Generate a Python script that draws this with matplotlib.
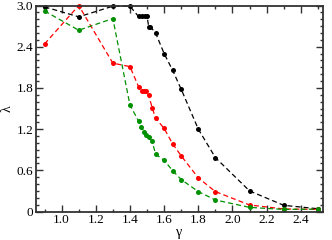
import matplotlib
matplotlib.use("Agg")
import matplotlib.pyplot as plt
from matplotlib.ticker import MultipleLocator, FixedFormatter, FixedLocator

black_x = [0.9, 1.1, 1.3, 1.4, 1.45, 1.47, 1.49, 1.50, 1.51, 1.52, 1.55, 1.6, 1.65, 1.7, 1.8, 1.9, 2.1, 2.3, 2.5]
black_y = [2.98, 2.835, 2.99, 2.99, 2.84, 2.84, 2.84, 2.84, 2.69, 2.69, 2.60, 2.30, 2.055, 1.78, 1.20, 0.785, 0.30, 0.09, 0.04]

red_x = [0.9, 1.1, 1.3, 1.4, 1.45, 1.47, 1.485, 1.495, 1.51, 1.53, 1.55, 1.6, 1.65, 1.7, 1.8, 1.9, 2.1, 2.3, 2.5]
red_y = [2.44, 3.0, 2.16, 2.11, 1.82, 1.75, 1.76, 1.75, 1.69, 1.51, 1.36, 1.21, 0.985, 0.81, 0.49, 0.29, 0.095, 0.037, 0.03]

green_x = [0.9, 1.1, 1.3, 1.4, 1.45, 1.465, 1.485, 1.495, 1.51, 1.53, 1.55, 1.6, 1.65, 1.7, 1.8, 1.9, 2.1, 2.3, 2.5]
green_y = [2.92, 2.64, 2.81, 1.55, 1.32, 1.23, 1.16, 1.12, 1.08, 1.02, 0.835, 0.745, 0.595, 0.465, 0.29, 0.168, 0.06, 0.03, 0.035]

xticks = [1.0, 1.2, 1.4, 1.6, 1.8, 2.0, 2.2, 2.4]
xticklabels = ["1.0", "1.2", "1.4", "1.6", "1.8", "2.0", "2.2", "2.4"]
yticks = [0, 0.6, 1.2, 1.8, 2.4, 3.0]
yticklabels = ["0", "0.6", "1.2", "1.8", "2.4", "3.0"]

plt.rcParams['font.family'] = ['Liberation Serif', 'DejaVu Serif']
fig = plt.figure(figsize=(3.32, 2.40), dpi=100)
ax = fig.add_axes([36/332, 1 - 211.5/240, (323-36)/332, (211.5-5.5)/240])

for xs, ys, c in [(black_x, black_y, 'black'), (red_x, red_y, '#ff0000'), (green_x, green_y, '#009000')]:
    ax.plot(xs, ys, linestyle=(0, (4, 2.5)), color=c, lw=0.9, marker='o', markersize=3.6,
            markeredgewidth=0, clip_on=False)

ax.set_xlim(0.85, 2.53)
ax.set_ylim(0, 3.0)
ax.xaxis.set_major_locator(FixedLocator(xticks))
ax.xaxis.set_major_formatter(FixedFormatter(xticklabels))
ax.xaxis.set_minor_locator(MultipleLocator(0.1))
ax.yaxis.set_major_locator(FixedLocator(yticks))
ax.yaxis.set_major_formatter(FixedFormatter(yticklabels))
ax.yaxis.set_minor_locator(MultipleLocator(0.1))
ax.tick_params(which='both', direction='in', top=True, right=True, labelsize=9.5, color='#333333', pad=2)
ax.tick_params(which='major', length=5, width=1)
ax.tick_params(which='minor', length=2.5, width=1)
for s in ax.spines.values():
    s.set_linewidth(1.3)
    s.set_color('#333333')
ax.set_xlabel('γ', fontsize=10, labelpad=0)
ax.set_ylabel('λ', fontsize=10, labelpad=2)

fig.savefig('out.png', dpi=100)
